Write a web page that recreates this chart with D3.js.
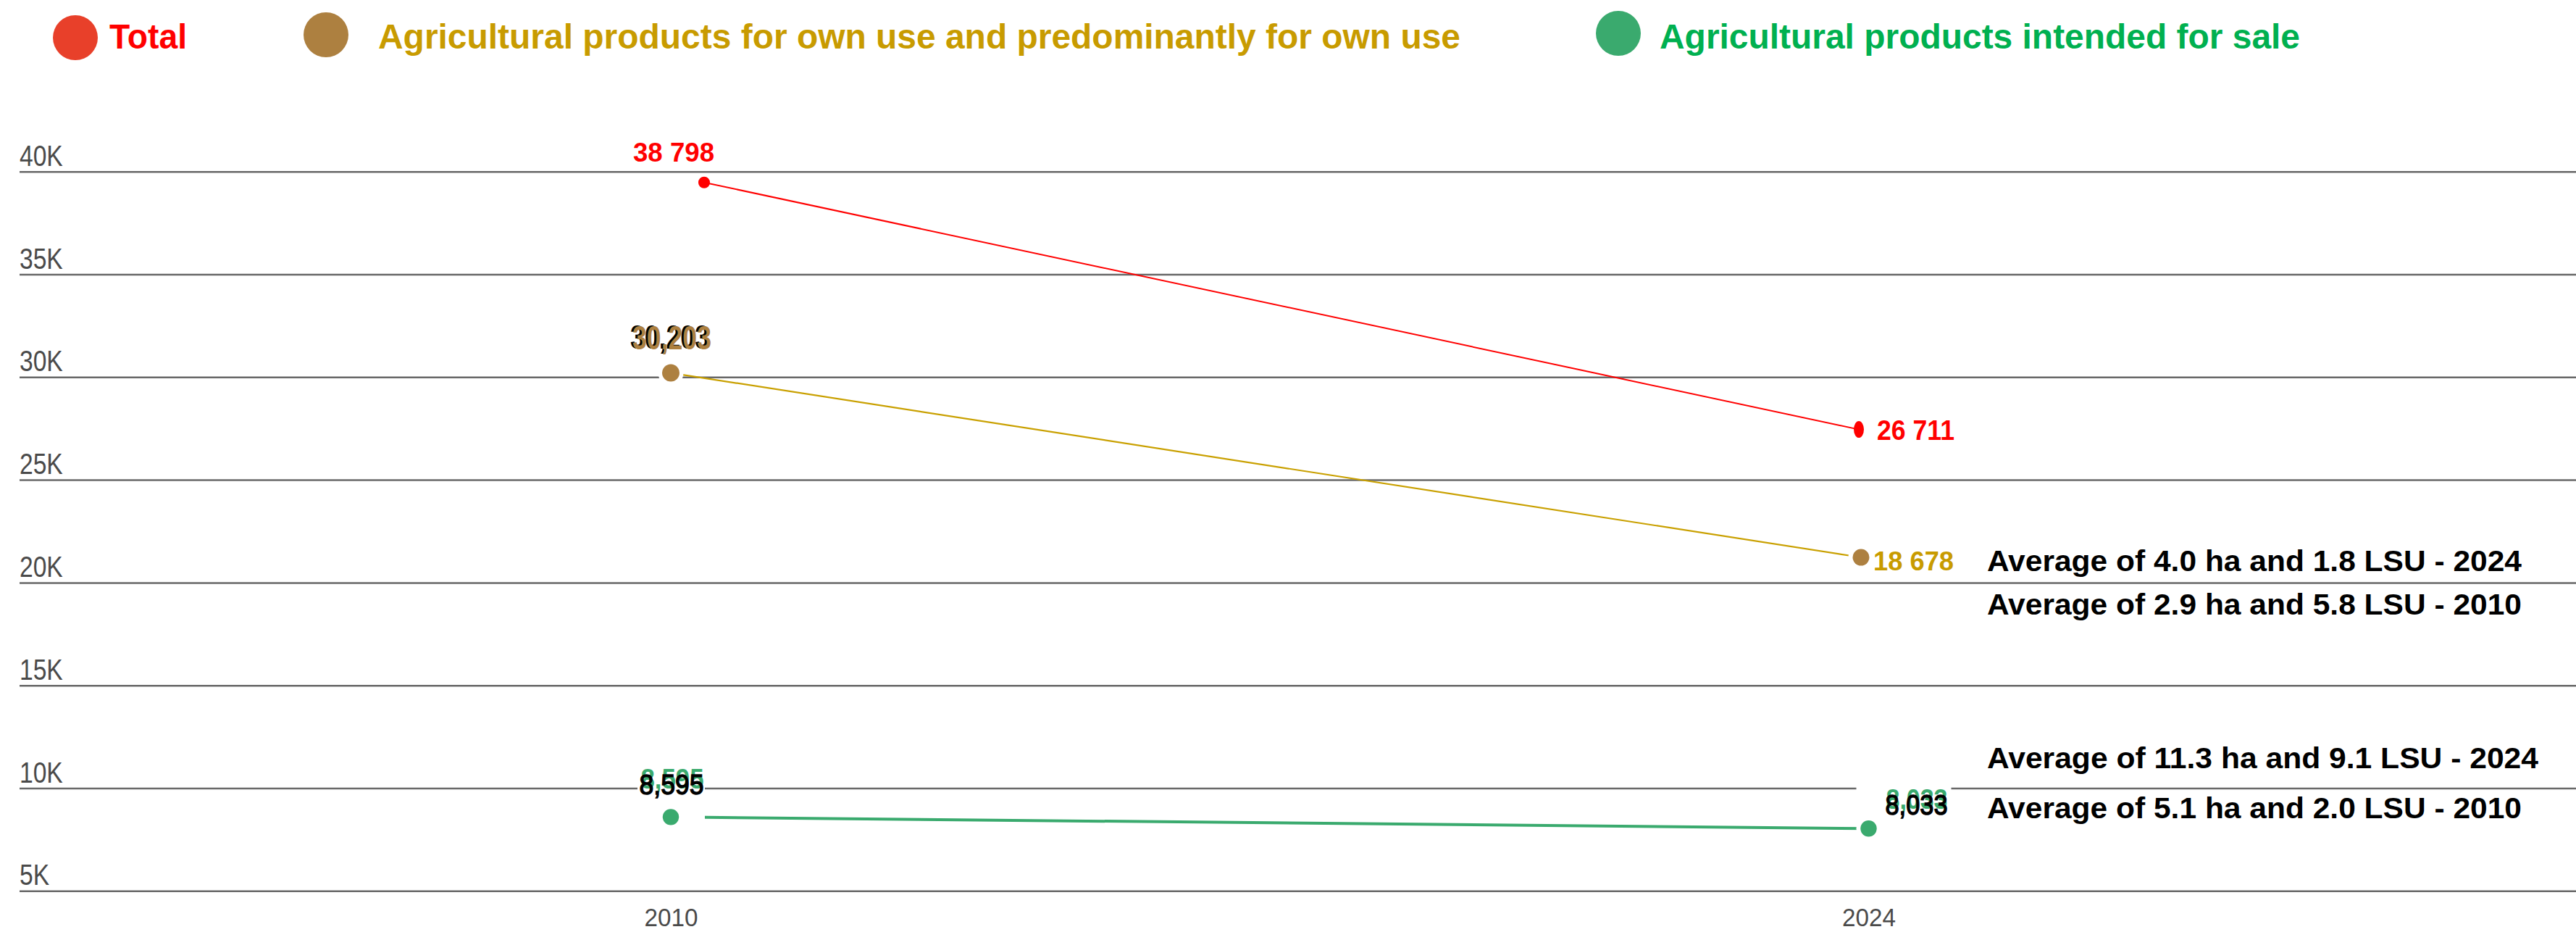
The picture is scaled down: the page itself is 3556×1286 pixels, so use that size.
<!DOCTYPE html>
<html>
<head>
<meta charset="utf-8">
<script src="https://cdn.jsdelivr.net/npm/d3@7"></script>
<style>
  html, body { margin: 0; padding: 0; background: #ffffff; }
  svg { display: block; font-family: "Liberation Sans", Arial, sans-serif; }
</style>
</head>
<body>
<svg id="chart"></svg>
<script>
// ---------------- DATA ----------------
const years = [2010, 2024];
const seriesNames = [
  "Total",
  "Agricultural products for own use and predominantly for own use",
  "Agricultural products intended for sale"
];
// values where the marks sit in the picture
const totalValues  = [39470, 27450];
const ownUseValues = [30203, 21230];
const saleValues   = [8595, 8033];
// data labels as printed on the picture
const totalLabels  = ["38 798", "26 711"];
const ownUseLabels = ["30,203", "18 678"];
const saleLabels   = ["8,595", "8,033"];
const yTicks = [5000, 10000, 15000, 20000, 25000, 30000, 35000, 40000];
const averageNotes = [
  "Average of 4.0 ha and 1.8 LSU - 2024",
  "Average of 2.9 ha and 5.8 LSU - 2010",
  "Average of 11.3 ha and 9.1 LSU - 2024",
  "Average of 5.1 ha and 2.0 LSU - 2010"
];

// ---------------- LAYOUT / STYLE ----------------
const W = 3556, H = 1286;
const FONT = '"Liberation Sans", Arial, sans-serif';
const svg = d3.select("#chart").attr("width", W).attr("height", H)
  .attr("viewBox", `0 0 ${W} ${H}`);

const x = d3.scaleLinear().domain([2010, 2024]).range([926, 2579.5]);
const y = d3.scaleLinear().domain([5000, 40000]).range([1229.3, 236.7]);

const gridLeft = 27;

// gridlines + y tick labels
const gy = svg.append("g").attr("transform", `translate(${gridLeft},0)`)
  .call(d3.axisRight(y).tickValues(yTicks).tickSize(W - gridLeft)
    .tickFormat(d => (d / 1000) + "K"));
gy.select(".domain").remove();
gy.selectAll(".tick line").attr("stroke", "#686868").attr("stroke-width", 2.5);
gy.selectAll(".tick text")
  .attr("x", 0).attr("dy", -8.5).attr("text-anchor", "start")
  .attr("font-family", FONT).attr("font-size", 40).attr("fill", "#4a4a4a")
  .each(function () {
    const w = this.getComputedTextLength();
    d3.select(this).attr("textLength", w * 0.84).attr("lengthAdjust", "spacingAndGlyphs");
  });

// x axis labels
const gx = svg.append("g").attr("transform", "translate(0,1278)")
  .call(d3.axisBottom(x).tickValues(years).tickSize(0).tickFormat(d3.format("d")));
gx.select(".domain").remove();
gx.selectAll(".tick text")
  .attr("y", 0).attr("dy", 0)
  .attr("font-family", FONT).attr("font-size", 35).attr("fill", "#4a4a4a")
  .each(function () {
    d3.select(this).attr("textLength", 74).attr("lengthAdjust", "spacingAndGlyphs");
  });

const series = [
  { key: "total", values: totalValues, labels: totalLabels,
    line: "#ff0000", lineW: 2, dot: "#ff0000",
    nudge: [46, -13.5], trim: [0, 0], halo: 0,
    dotR: [[8, 8], [7, 11.5]] },
  { key: "own", values: ownUseValues, labels: ownUseLabels,
    line: "#c9a000", lineW: 2.2, dot: "#ad8040",
    nudge: [0, -10.5], trim: [0, 0], halo: 17.5,
    dotR: [[12, 12], [11.5, 11.5]] },
  { key: "sale", values: saleValues, labels: saleLabels,
    line: "#3aaa6e", lineW: 4, dot: "#3aaa6e",
    nudge: [0, 0], trim: [47, 0], halo: 17,
    dotR: [[11.2, 11.2], [11.2, 11.2]] }
];

series.forEach(s => {
  s.pts = years.map((yr, i) => [x(yr) + s.nudge[i], y(s.values[i])]);
});

// lines
series.forEach(s => {
  const [p0, p1] = s.pts;
  const dx = p1[0] - p0[0], dy = p1[1] - p0[1];
  const len = Math.hypot(dx, dy);
  const a = [p0[0] + dx / len * s.trim[0], p0[1] + dy / len * s.trim[0]];
  const b = [p1[0] - dx / len * s.trim[1], p1[1] - dy / len * s.trim[1]];
  svg.append("path")
    .attr("d", d3.line()([a, b]))
    .attr("fill", "none").attr("stroke", s.line).attr("stroke-width", s.lineW);
});

// halos and dots
series.forEach(s => {
  if (s.halo > 0) {
    svg.selectAll(null).data(s.pts).enter().append("circle")
      .attr("cx", d => d[0]).attr("cy", d => d[1]).attr("r", s.halo)
      .attr("fill", "#ffffff");
  }
  svg.selectAll(null).data(s.pts).enter().append("ellipse")
    .attr("cx", d => d[0]).attr("cy", d => d[1])
    .attr("rx", (d, i) => s.dotR[i][0]).attr("ry", (d, i) => s.dotR[i][1])
    .attr("fill", s.dot);
});

// ---------------- DATA LABELS ----------------
function label(txt, xx, yy, opts) {
  const t = svg.append("text").attr("x", xx).attr("y", yy).text(txt)
    .attr("font-family", FONT)
    .attr("font-size", opts.size)
    .attr("font-weight", opts.weight || "bold")
    .attr("fill", opts.fill)
    .attr("text-anchor", opts.anchor || "start");
  if (opts.len) t.attr("textLength", opts.len).attr("lengthAdjust", "spacingAndGlyphs");
  if (opts.stroke) t.attr("stroke", opts.stroke).attr("stroke-width", opts.strokeW);
  return t;
}

// Total
{
  const s = series[0];
  label(s.labels[0], x(years[0]) + 4, s.pts[0][1] - 29, { size: 36, fill: "#ff0000", anchor: "middle", len: 112 });
  label(s.labels[1], s.pts[1][0] + 25, s.pts[1][1] + 14, { size: 38, fill: "#ff0000", len: 107 });
}
// Own use
{
  const s = series[1];
  const cx = s.pts[0][0] + 1.5, by = s.pts[0][1] - 33;
  label(s.labels[0], cx, by, { size: 47, fill: "#ffffff", anchor: "middle", len: 109, stroke: "#ffffff", strokeW: 6 });
  label(s.labels[0], cx - 3, by - 1, { size: 47, fill: "#000000", anchor: "middle", len: 109 });
  label(s.labels[0], cx, by, { size: 47, fill: "#ad8040", anchor: "middle", len: 109 });
  label(s.labels[1], s.pts[1][0] + 17, s.pts[1][1] + 17.7, { size: 36, fill: "#c89b00", len: 111 });
}
// Sale
{
  const s = series[2];
  // 2010
  const cx = s.pts[0][0] + 1, by = s.pts[0][1] - 31.6;
  svg.append("rect").attr("x", cx - 47).attr("y", by - 40).attr("width", 93).attr("height", 44).attr("fill", "#ffffff");
  label(s.labels[0], cx + 1, by - 8, { size: 39, fill: "#3aaa6e", anchor: "middle", len: 87 });
  label(s.labels[0], cx, by, { size: 39, weight: "normal", fill: "#000000", anchor: "middle", len: 89, stroke: "#000000", strokeW: 1.4 });
  // 2024
  const sx = s.pts[1][0] + 23, by2 = s.pts[1][1] - 19.4;
  svg.append("rect").attr("x", sx - 40).attr("y", by2 - 42).attr("width", 131).attr("height", 46).attr("fill", "#ffffff");
  label(s.labels[1], sx + 1, by2 - 8, { size: 39, fill: "#3aaa6e", len: 85 });
  label(s.labels[1], sx, by2, { size: 39, weight: "normal", fill: "#000000", len: 86, stroke: "#000000", strokeW: 1.4 });
}

// ---------------- AVERAGE NOTES ----------------
const notePos = [
  { y: 788.3, len: 738 },
  { y: 848.3, len: 738 },
  { y: 1060,  len: 761 },
  { y: 1129.3, len: 738 }
];
averageNotes.forEach((n, i) => {
  label(n, 2743, notePos[i].y, { size: 40, fill: "#000000", len: notePos[i].len });
});

// ---------------- LEGEND ----------------
const legendStyle = [
  { cx: 104,  cy: 52, r: 31, dot: "#e8402a", tx: 151,  ty: 67, fill: "#ff0000", len: 107 },
  { cx: 450,  cy: 48, r: 31, dot: "#ad8040", tx: 522,  ty: 67, fill: "#c89b00", len: 1494 },
  { cx: 2234, cy: 46, r: 31, dot: "#3aaa6e", tx: 2291, ty: 67, fill: "#00b050", len: 884 }
];
const lg = svg.append("g");
seriesNames.forEach((name, i) => {
  const st = legendStyle[i];
  lg.append("circle").attr("cx", st.cx).attr("cy", st.cy).attr("r", st.r).attr("fill", st.dot);
  lg.append("text").attr("x", st.tx).attr("y", st.ty).text(name)
    .attr("font-family", FONT).attr("font-size", 48).attr("font-weight", "bold")
    .attr("fill", st.fill)
    .attr("textLength", st.len).attr("lengthAdjust", "spacingAndGlyphs");
});
</script>
</body>
</html>
